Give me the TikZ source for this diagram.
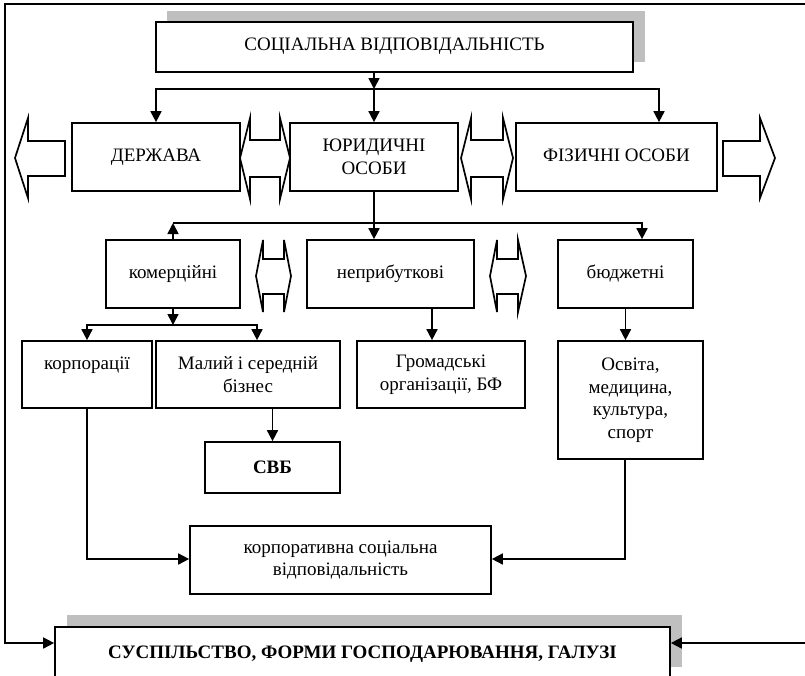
\documentclass[tikz,border=0pt]{standalone}
\usepackage{fontspec}
\setmainfont{Liberation Serif}
\usetikzlibrary{arrows.meta,calc}
\begin{document}
\begin{tikzpicture}[x=1pt,y=-1pt,
  box/.style={draw,fill=white,line width=1.7pt,inner sep=0pt,align=center,font=\fontsize{19}{22.5}\selectfont},
  arr/.style={-{Triangle[length=11pt,width=11pt]},line width=1.7pt},
  ln/.style={line width=1.7pt},
  blk/.style={draw,line width=1.7pt,line join=miter,fill=white},
  shadow/.style={fill=black!25,draw=none}]
\useasboundingbox (0,0) rectangle (805,675);
% shadows
\fill[shadow] (167,11) rectangle (645,62);
\fill[shadow] (67,615) rectangle (682,667);
% boxes
\node[box,minimum width=477,minimum height=50] (top) at (394.5,47) {\raisebox{5pt}{СОЦІАЛЬНА ВІДПОВІДАЛЬНІСТЬ}};
\node[box,minimum width=168,minimum height=68] (derzh) at (156,157) {\raisebox{4pt}{ДЕРЖАВА}};
\node[box,minimum width=168,minimum height=68] (yur) at (374,157) {ЮРИДИЧНІ\\ОСОБИ};
\node[box,minimum width=201,minimum height=68] (fiz) at (616.5,157) {\raisebox{4pt}{ФІЗИЧНІ ОСОБИ}};
\node[box,minimum width=134,minimum height=68] (kom) at (173,274) {комерційні};
\node[box,minimum width=167,minimum height=68] (nepr) at (390.5,274) {неприбуткові};
\node[box,minimum width=135,minimum height=68] (budg) at (625.5,274) {бюджетні};
\node[box,minimum width=130,minimum height=67] (korp) at (87,374.5) {корпорації\\\phantom{б}};
\node[box,minimum width=184,minimum height=67] (maliy) at (248,374.5) {Малий і середній\\бізнес};
\node[box,minimum width=168,minimum height=67] (grom) at (441,374.5) {Громадські\\організації, БФ};
\node[box,minimum width=145,minimum height=118] (osv) at (630.5,400) {Освіта,\\медицина,\\культура,\\спорт};
\node[box,minimum width=135,minimum height=51,font=\fontsize{19}{22.5}\selectfont\bfseries] (svb) at (272.5,467.5) {СВБ};
\node[box,minimum width=301,minimum height=68] (ksv) at (340.5,560) {корпоративна соціальна\\відповідальність};
\node[box,minimum width=615,minimum height=54,font=\fontsize{19}{22.5}\selectfont\bfseries] (bot) at (362.5,654) {СУСПІЛЬСТВО, ФОРМИ ГОСПОДАРЮВАННЯ, ГАЛУЗІ};
% junctions
\coordinate (j1) at (374,89);
\coordinate (j2) at (374,223);
\coordinate (j3) at (173,325);
\coordinate (fa) at (805,4);
\coordinate (fb) at (5,4);
\coordinate (fl) at (5,643);
\coordinate (fr) at (805,643);
% connectors
\draw[arr] (top.south -| j1) -- (j1);
\draw[arr] (j1) -- (yur.north);
\draw[arr] (j1) -| (derzh.north);
\draw[arr] (j1) -| ([xshift=42.5pt]fiz.north);
\draw[ln] (yur.south) -- (j2);
\draw[arr] (j2) -- (j2 |- nepr.north);
\draw[arr] (j2) -| ([xshift=16.5pt]budg.north);
\draw[ln] (j2) -- (kom.north |- j2);
\draw[arr] (kom.north) -- (kom.north |- j2);
\draw[arr] (kom.south) -- (j3);
\draw[arr] (j3) -| (korp.north);
\draw[arr] (j3) -| ([xshift=9pt]maliy.north);
\draw[arr] (svb.north |- maliy.south) -- (svb.north);
\draw[arr] ([xshift=-9pt]grom.north |- nepr.south) -- ([xshift=-9pt]grom.north);
\draw[arr] (budg.south) -- (budg.south |- osv.north);
\draw[arr] (korp.south) |- ([yshift=1pt]ksv.west);
\draw[arr] ([xshift=-5.5pt]osv.south) |- ([yshift=1pt]ksv.east);
\draw[arr] (fa) -- (fb) -- (fl) -- (fl -| bot.west);
\draw[arr] (fr) -- (fr -| bot.east);
% block arrows
\draw[blk] (15,158) -- (28,118) -- (28,141) -- (65,141) -- (65,176) -- (28,176) -- (28,198) -- cycle;
\draw[blk] (723,141) -- (760,141) -- (760,118) -- (775,158) -- (760,198) -- (760,176) -- (723,176) -- cycle;
\draw[blk] (240,158) -- (250,118) -- (250,140) -- (280,140) -- (280,118) -- (290,158) -- (280,199) -- (280,177) -- (250,177) -- (250,199) -- cycle;
\draw[blk] (461,158) -- (471,118) -- (471,140) -- (503,140) -- (503,118) -- (513,158) -- (503,199) -- (503,177) -- (471,177) -- (471,199) -- cycle;
\draw[blk] (256,276) -- (263,240) -- (263,259) -- (284,259) -- (284,240) -- (291,276) -- (284,312) -- (284,294) -- (263,294) -- (263,312) -- cycle;
\draw[blk] (490,276) -- (497,240) -- (497,259) -- (518,259) -- (518,240) -- (526,276) -- (518,312) -- (518,294) -- (497,294) -- (497,312) -- cycle;
\end{tikzpicture}
\end{document}
